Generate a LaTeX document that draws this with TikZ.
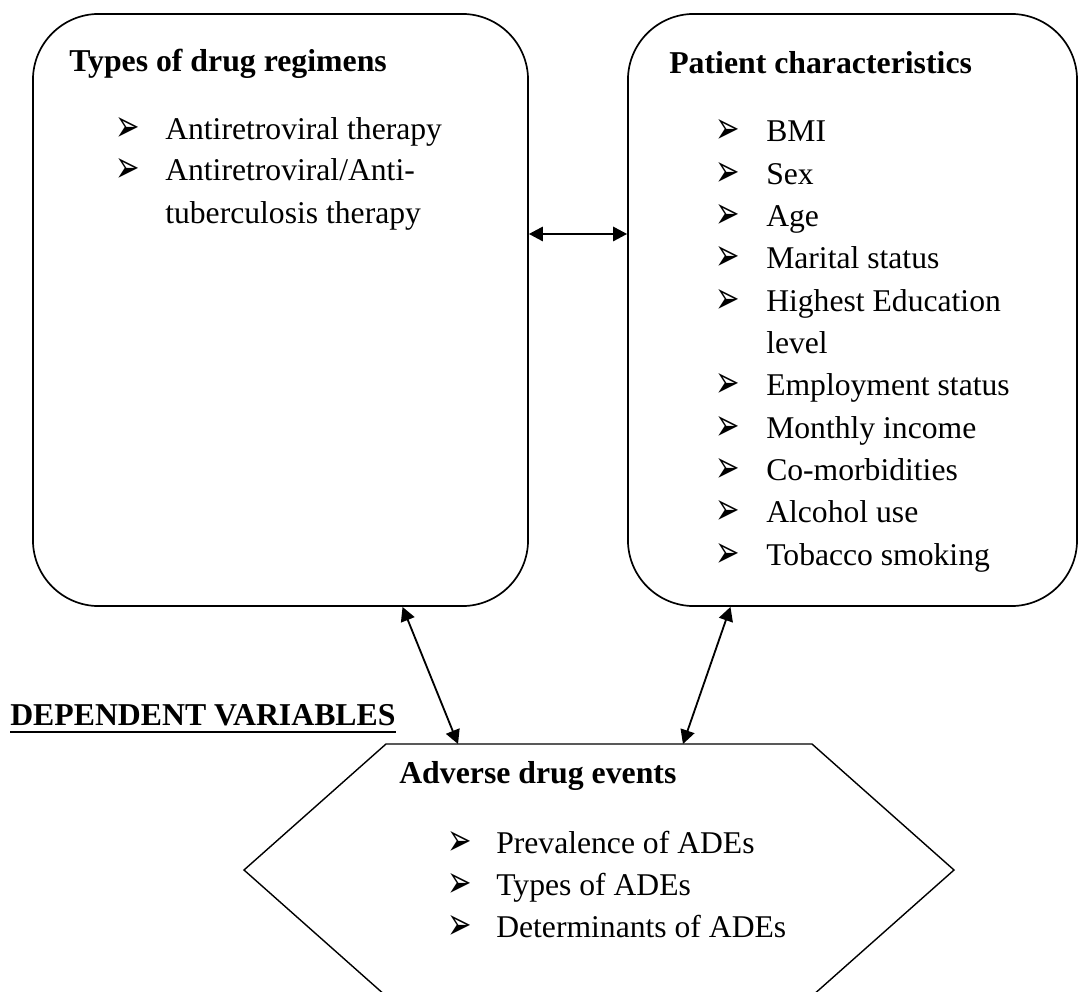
\documentclass[tikz,border=0pt]{standalone}
\usepackage{fontspec}
\setmainfont{Liberation Serif}
\newfontfamily\bulfont{DejaVu Sans}
\usepackage{graphicx}
\usepackage{tikz}
\usetikzlibrary{arrows.meta}
\usetikzlibrary{positioning}

\newcommand{\bulchar}{\scalebox{0.65}[1]{➢}}

\tikzset{
  box/.style={draw, line width=1.2pt, rounded corners=1.65cm, inner sep=0pt},
  head/.style={anchor=base west, inner sep=0pt, font=\fontsize{22.6}{30}\selectfont\bfseries},
  item/.style={anchor=base west, inner sep=0pt, font=\fontsize{22.5}{30}\selectfont},
  bul/.style={anchor=base west, inner sep=0pt, font=\bulfont\fontsize{32}{32}\selectfont},
  link/.style={{Triangle[length=0.35cm,width=0.36cm]}-{Triangle[length=0.35cm,width=0.36cm]}, line width=1.3pt}
}

\begin{document}
\begin{tikzpicture}[x=0.025cm, y=-0.025cm]
    \useasboundingbox (0,0) rectangle (1080,992);
    % the two boxes
    \node[box, minimum width=12.375cm, minimum height=14.8cm] at (280.5,310) (regimen) {};
    \node[box, minimum width=11.225cm, minimum height=14.8cm] at (852.5,310) (patient) {};
    % hexagon, cut at the bottom of the page
    \draw[line width=1pt] (386,744) coordinate (ade nw) -- (812,744) coordinate (ade ne)
        -- (954,870) -- (812,996) -- (386,996) -- (244,870) -- cycle;

    \node[head] at (69,72) (regimenhead) {Types of drug regimens};
    \node[head] at (669,74) (patienthead) {Patient characteristics};
    \node[head] at (399,783) (adehead) {Adverse drug events};
    \node[head] at (10,725) (dep) {DEPENDENT VARIABLES};
    \draw[line width=2pt] ([yshift=-5pt]dep.base west) -- ([yshift=-5pt]dep.base east);

    % lists
    \foreach \txt [count=\i from 0] in {Antiretroviral therapy, Antiretroviral/Anti-, tuberculosis therapy}
        \node[item] at (165,139+42*\i) (reg\i) {\txt};
    \foreach \i in {0,1}
        \node[bul] at (115,141+42*\i) (regb\i) {\bulchar};

    \foreach \txt [count=\i from 0] in {BMI, Sex, Age, Marital status, Highest Education, level, Employment status, Monthly income, Co-morbidities, Alcohol use, Tobacco smoking}
        \node[item] at (766,142+42.3*\i) (pat\i) {\txt};
    \foreach \i in {0,...,4,6,7,...,10}
        \node[bul] at (715,144+42.3*\i) (patb\i) {\bulchar};

    \foreach \txt [count=\i from 0] in {Prevalence of ADEs, Types of ADEs, Determinants of ADEs} {
        \node[item] at (496,853+42*\i) (ade\i) {\txt};
        \node[bul] at (447,855+42*\i) (adeb\i) {\bulchar};
    }

    % connectors
    \draw[link] ([yshift=1.9cm]regimen.east) -- ([yshift=1.9cm]patient.west);
    \draw[link] ([xshift=3.05cm]regimen.south) -- ([xshift=1.8cm]ade nw);
    \draw[link] ([xshift=-3.05cm]patient.south) -- ([xshift=-3.225cm]ade ne);
\end{tikzpicture}
\end{document}
